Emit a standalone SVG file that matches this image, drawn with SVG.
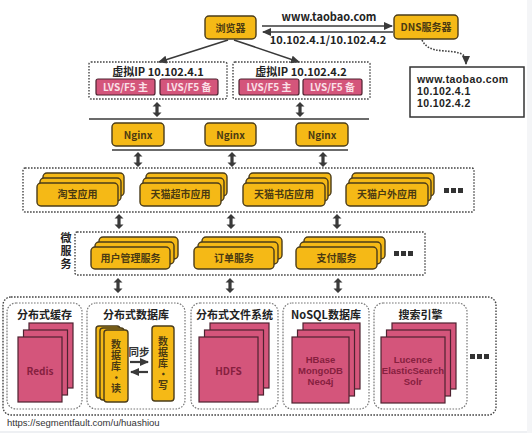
<svg xmlns="http://www.w3.org/2000/svg" xmlns:xlink="http://www.w3.org/1999/xlink" width="532" height="433" viewBox="0 0 532 433">
<style>
text{font-family:"Noto Sans CJK SC","Liberation Sans",sans-serif;font-weight:bold;}
.y{fill:#f5b916;stroke:#4a3c1a;stroke-width:1.4;}
.yt{fill:#4a3a12;font-size:10px;text-anchor:middle;}
.p{fill:#d4557b;stroke:#4e2230;stroke-width:1.2;}
.pt{fill:#86203f;font-size:10px;text-anchor:middle;}
.pl{fill:#86203f;font-size:9.5px;text-anchor:middle;font-family:"Liberation Sans",Arial,sans-serif;}
.lt{fill:#fbe0e8;font-size:10px;text-anchor:middle;}
.dash{fill:none;stroke:#444;stroke-width:1.4;stroke-dasharray:1.6 1.4;}
.pan{fill:#fff;stroke:#777;stroke-width:1.2;stroke-dasharray:1.6 1.4;}
.k{fill:#222;font-size:11px;}
.ln{stroke:#3a3a3a;stroke-width:1.6;fill:none;}
.dot{fill:#333;}
.vt{writing-mode:vertical-rl;text-anchor:middle;}
</style>
<defs>
<marker id="ah" markerWidth="9" markerHeight="8" refX="8" refY="4" orient="auto" markerUnits="userSpaceOnUse"><path d="M0,0 L9,4 L0,8 Z" fill="#3a3a3a"/></marker>
<path id="dbl" d="M0,0 L4.5,4.5 L1.6,4.5 L1.6,10.5 L4.5,10.5 L0,15 L-4.5,10.5 L-1.6,10.5 L-1.6,4.5 L-4.5,4.5 Z" fill="#3a3a3a"/>
</defs>
<rect width="532" height="433" fill="#fff"/>
<rect x="0" y="431" width="532" height="2" fill="#eef0f3"/>
<rect x="527" y="0" width="5" height="433" fill="#f4f5f7"/>

<g id="connectors">
<line class="ln" x1="262" y1="26" x2="392" y2="26" marker-end="url(#ah)"/>
<line class="ln" x1="393" y1="32" x2="263" y2="32" marker-end="url(#ah)"/>
<line class="ln" x1="228" y1="40" x2="159" y2="62" marker-end="url(#ah)"/>
<line class="ln" x1="234" y1="40" x2="299" y2="62" marker-end="url(#ah)"/>
<path d="M422,40 C428,52 440,50 455,52 C465,54 466,57 466,64" fill="none" stroke="#444" stroke-width="1.6" stroke-dasharray="1.6 1.4" marker-end="url(#ah)"/>
<line class="ln" x1="89" y1="119" x2="369" y2="119"/>
<line class="ln" x1="112" y1="150" x2="348" y2="150"/>
<use xlink:href="#dbl" x="157" y="102"/>
<use xlink:href="#dbl" x="300" y="102"/>
<use xlink:href="#dbl" x="138" y="152"/>
<use xlink:href="#dbl" x="232" y="152"/>
<use xlink:href="#dbl" x="323" y="152"/>
<use xlink:href="#dbl" x="119" y="214"/>
<use xlink:href="#dbl" x="231" y="214"/>
<use xlink:href="#dbl" x="337" y="214"/>
<use xlink:href="#dbl" x="118" y="278"/>
<use xlink:href="#dbl" x="230" y="278"/>
<use xlink:href="#dbl" x="338" y="278"/>
</g>
<g id="edge-labels">
<text x="329" y="21" class="k" text-anchor="middle">www.taobao.com</text>
<text x="328" y="44" class="k" text-anchor="middle" font-size="10.5">10.102.4.1/10.102.4.2</text>
</g>

<g id="browser"><rect class="y" x="205" y="16" width="51" height="23" rx="4"/><text class="yt" x="230.5" y="31.5" font-size="11">浏览器</text></g>
<g id="dns"><rect class="y" x="394" y="15" width="64" height="24" rx="4"/><text class="yt" x="426" y="31" font-size="11">DNS服务器</text></g>
<g id="dns-result"><rect x="410" y="67" width="114" height="50" fill="#fff" stroke="#333" stroke-width="1.5"/>
<text x="417" y="83" fill="#222" font-size="10.5" letter-spacing="0.4" style="font-family:'Liberation Sans',Arial,sans-serif">www.taobao.com<tspan x="417" dy="12">10.102.4.1</tspan><tspan x="417" dy="12">10.102.4.2</tspan></text></g>

<g id="vip1"><rect class="dash" x="89" y="62" width="138" height="37" rx="2"/>
<text class="k" x="158" y="76" text-anchor="middle" font-size="10.5">虚拟IP 10.102.4.1</text>
<rect class="p" x="96" y="79" width="59" height="16" rx="2"/><text class="lt" x="125.5" y="90.5">LVS/F5 主</text>
<rect class="p" x="160" y="79" width="58" height="16" rx="2"/><text class="lt" x="189" y="90.5">LVS/F5 备</text></g>
<g id="vip2"><rect class="dash" x="233" y="62" width="137" height="37" rx="2"/>
<text class="k" x="301" y="76" text-anchor="middle" font-size="10.5">虚拟IP 10.102.4.2</text>
<rect class="p" x="239" y="79" width="60" height="16" rx="2"/><text class="lt" x="269" y="90.5">LVS/F5 主</text>
<rect class="p" x="303" y="79" width="59" height="16" rx="2"/><text class="lt" x="332.5" y="90.5">LVS/F5 备</text></g>

<g id="nginx1"><rect class="y" x="112" y="123" width="52" height="23" rx="4"/><text class="yt" x="138" y="138.5" font-size="10.5">Nginx</text></g>
<g id="nginx2"><rect class="y" x="205" y="123" width="51" height="23" rx="4"/><text class="yt" x="230.5" y="138.5" font-size="10.5">Nginx</text></g>
<g id="nginx3"><rect class="y" x="296" y="123" width="52" height="23" rx="4"/><text class="yt" x="322" y="138.5" font-size="10.5">Nginx</text></g>

<g id="apps"><rect class="dash" x="23" y="168" width="451" height="44" rx="2"/>
<rect class="dot" x="444" y="188" width="5" height="5"/><rect class="dot" x="451" y="188" width="5" height="5"/><rect class="dot" x="458" y="188" width="5" height="5"/></g>
<g id="app-taobao"><rect class="y" x="43" y="173" width="81" height="23" rx="4"/><rect class="y" x="40" y="178" width="81" height="23" rx="4"/><rect class="y" x="37" y="183" width="81" height="23" rx="4"/><text class="yt" x="77.5" y="198">淘宝应用</text></g>
<g id="app-chaoshi"><rect class="y" x="146" y="173" width="81" height="23" rx="4"/><rect class="y" x="143" y="178" width="81" height="23" rx="4"/><rect class="y" x="140" y="183" width="81" height="23" rx="4"/><text class="yt" x="180.5" y="198">天猫超市应用</text></g>
<g id="app-shudian"><rect class="y" x="249" y="173" width="82" height="23" rx="4"/><rect class="y" x="246" y="178" width="82" height="23" rx="4"/><rect class="y" x="243" y="183" width="82" height="23" rx="4"/><text class="yt" x="284" y="198">天猫书店应用</text></g>
<g id="app-huwai"><rect class="y" x="352" y="173" width="82" height="23" rx="4"/><rect class="y" x="349" y="178" width="82" height="23" rx="4"/><rect class="y" x="346" y="183" width="82" height="23" rx="4"/><text class="yt" x="387" y="198">天猫户外应用</text></g>

<g id="micro"><rect class="dash" x="75" y="232" width="350" height="43" rx="2"/>
<text class="k vt" x="66" y="252" font-size="10.5" fill="#333" letter-spacing="2">微服务</text>
<rect class="dot" x="394" y="251" width="5" height="5"/><rect class="dot" x="401" y="251" width="5" height="5"/><rect class="dot" x="408" y="251" width="5" height="5"/></g>
<g id="svc-user"><rect class="y" x="99" y="237" width="79" height="22" rx="4"/><rect class="y" x="95" y="242" width="79" height="22" rx="4"/><rect class="y" x="91" y="247" width="79" height="22" rx="4"/><text class="yt" x="130.5" y="261.5">用户管理服务</text></g>
<g id="svc-order"><rect class="y" x="202" y="237" width="80" height="22" rx="4"/><rect class="y" x="198" y="242" width="80" height="22" rx="4"/><rect class="y" x="194" y="247" width="80" height="22" rx="4"/><text class="yt" x="234" y="261.5">订单服务</text></g>
<g id="svc-pay"><rect class="y" x="304" y="237" width="81" height="22" rx="4"/><rect class="y" x="300" y="242" width="81" height="22" rx="4"/><rect class="y" x="296" y="247" width="81" height="22" rx="4"/><text class="yt" x="336.5" y="261.5">支付服务</text></g>

<g id="storage"><rect class="dash" x="3" y="297" width="493" height="118" rx="8"/>
<rect class="dot" x="470" y="354" width="5" height="5"/><rect class="dot" x="477" y="354" width="5" height="5"/><rect class="dot" x="484" y="354" width="5" height="5"/></g>

<g id="cache"><rect class="pan" x="7" y="303" width="75" height="106" rx="9"/>
<text class="k" x="44.5" y="319" text-anchor="middle" font-size="10.5">分布式缓存</text>
<rect class="p" x="29" y="323" width="44" height="65"/><rect class="p" x="23.5" y="330" width="44" height="65"/><rect class="p" x="18" y="337" width="44" height="65"/>
<text class="pt" x="40" y="374.5" font-size="10.5">Redis</text></g>

<g id="database"><rect class="pan" x="87" y="303" width="98" height="106" rx="9"/>
<text class="k" x="136" y="319" text-anchor="middle" font-size="10.5">分布式数据库</text>
<rect class="y" x="96" y="326" width="24" height="72" rx="3"/><rect class="y" x="100" y="328" width="24" height="72" rx="3"/><rect class="y" x="104" y="330" width="24" height="72" rx="3"/>
<text class="yt vt" x="116" y="367" font-size="10.5" letter-spacing="1">数据库·读</text>
<rect class="y" x="152" y="326" width="22" height="75" rx="3"/>
<text class="yt vt" x="163" y="363.5" font-size="10.5" letter-spacing="1">数据库·写</text>
<text x="139" y="356" text-anchor="middle" font-size="10.5" fill="#333">同步</text>
<line x1="130" y1="362" x2="148" y2="362" stroke="#3a3a3a" stroke-width="2.2" marker-end="url(#ah)"/>
<line x1="148" y1="372" x2="131" y2="372" stroke="#3a3a3a" stroke-width="2.2" marker-end="url(#ah)"/></g>

<g id="filesystem"><rect class="pan" x="191" y="303" width="87" height="106" rx="9"/>
<text class="k" x="234.5" y="319" text-anchor="middle" font-size="10.5">分布式文件系统</text>
<rect class="p" x="210" y="323" width="59" height="65"/><rect class="p" x="204.5" y="330" width="59" height="65"/><rect class="p" x="199" y="337" width="59" height="65"/>
<text class="pt" x="228.5" y="374.5" font-size="10.5">HDFS</text></g>

<g id="nosql"><rect class="pan" x="283" y="303" width="86" height="106" rx="9"/>
<text class="k" x="326" y="319" text-anchor="middle" font-size="10.5">NoSQL数据库</text>
<rect class="p" x="303" y="323" width="57" height="66"/><rect class="p" x="297.5" y="330" width="57" height="66"/><rect class="p" x="292" y="337" width="57" height="66"/>
<text class="pl" x="320.5" y="363">HBase<tspan x="320.5" dy="11">MongoDB</tspan><tspan x="320.5" dy="11">Neo4j</tspan></text></g>

<g id="search"><rect class="pan" x="374" y="303" width="93" height="106" rx="9"/>
<text class="k" x="420.5" y="319" text-anchor="middle" font-size="10.5">搜索引擎</text>
<rect class="p" x="392" y="323" width="64" height="66"/><rect class="p" x="386.5" y="330" width="64" height="66"/><rect class="p" x="381" y="337" width="64" height="66"/>
<text class="pl" x="413" y="363">Lucence<tspan x="413" dy="11">ElasticSearch</tspan><tspan x="413" dy="11">Solr</tspan></text></g>

<text x="7" y="426" font-size="9.5" fill="#333" style="font-family:'Liberation Sans',Arial,sans-serif;font-weight:normal">https://segmentfault.com/u/huashiou</text>
</svg>
